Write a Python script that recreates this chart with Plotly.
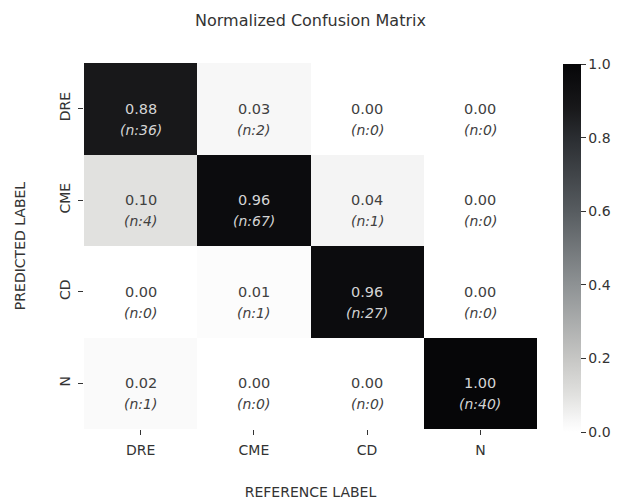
import plotly.graph_objects as go

labels = ["DRE", "CME", "CD", "N"]
values = [
    [0.88, 0.03, 0.00, 0.00],
    [0.10, 0.96, 0.04, 0.00],
    [0.00, 0.01, 0.96, 0.00],
    [0.02, 0.00, 0.00, 1.00],
]
counts = [
    [36, 2, 0, 0],
    [4, 67, 1, 0],
    [0, 1, 27, 0],
    [1, 0, 0, 40],
]
colorbar_ticks = [0.0, 0.2, 0.4, 0.6, 0.8, 1.0]

cscale = [
    [0.0, "#ffffff"],
    [0.03, "#f7f7f7"],
    [0.1, "#e1e1df"],
    [0.2, "#c6c6c4"],
    [0.4, "#8e9294"],
    [0.6, "#575c60"],
    [0.8, "#2a2d31"],
    [0.88, "#18181a"],
    [1.0, "#060608"],
]

fig = go.Figure(go.Heatmap(
    z=values, x=labels, y=labels, zmin=0, zmax=1,
    colorscale=cscale, hoverinfo="skip",
    colorbar=dict(
        xref="container", yref="paper",
        x=563 / 621, xanchor="left", thickness=18, len=368, lenmode="pixels",
        y=0.4945, yanchor="middle", xpad=0, ypad=0,
        outlinewidth=0, ticks="outside", ticklen=5, tickcolor="#333",
        tickvals=colorbar_ticks, ticktext=[f"{t:.1f}" for t in colorbar_ticks],
        tickfont=dict(family="DejaVu Sans", size=14, color="#333"),
    ),
))

annotations = []
for i, row in enumerate(labels):
    for j, col in enumerate(labels):
        v = values[i][j]
        c = "#d4d4d4" if v > 0.5 else "#404040"
        annotations.append(dict(
            x=col, y=row, xref="x", yref="y", showarrow=False,
            text=f"{v:.2f}", yshift=0,
            font=dict(family="DejaVu Sans", size=14.5, color=c),
        ))
        annotations.append(dict(
            x=col, y=row, xref="x", yref="y", showarrow=False,
            text=f"<i>(n:{counts[i][j]})</i>", yshift=-21,
            font=dict(family="DejaVu Sans", size=14, color=c),
        ))

fig.update_layout(
    width=621, height=500,
    margin=dict(l=84, r=84, t=63, b=71),
    paper_bgcolor="white", plot_bgcolor="white",
    title=dict(text="Normalized Confusion Matrix", x=0.5, xanchor="center",
               y=0.96, yanchor="middle",
               font=dict(family="DejaVu Sans", size=16, color="#333")),
    annotations=annotations,
    font=dict(family="DejaVu Sans", color="#333"),
)
fig.update_xaxes(
    automargin=False,
    showgrid=False, zeroline=False, ticks="outside", ticklen=5, tickcolor="#333",
    ticklabelstandoff=3,
    tickfont=dict(size=14, color="#333"),
    title=dict(text="REFERENCE LABEL", font=dict(size=14, color="#333"), standoff=30),
)
fig.update_yaxes(
    automargin=False,
    showgrid=False, zeroline=False, autorange="reversed", ticks="outside", ticklen=5,
    tickcolor="#333", tickangle=-90, ticklabelstandoff=2,
    tickfont=dict(size=14, color="#333"),
    title=dict(text="PREDICTED LABEL", font=dict(size=14, color="#333"), standoff=28),
)

fig.write_html("out.html", config={"displayModeBar": False},
               post_script="document.body.style.margin='0';")
